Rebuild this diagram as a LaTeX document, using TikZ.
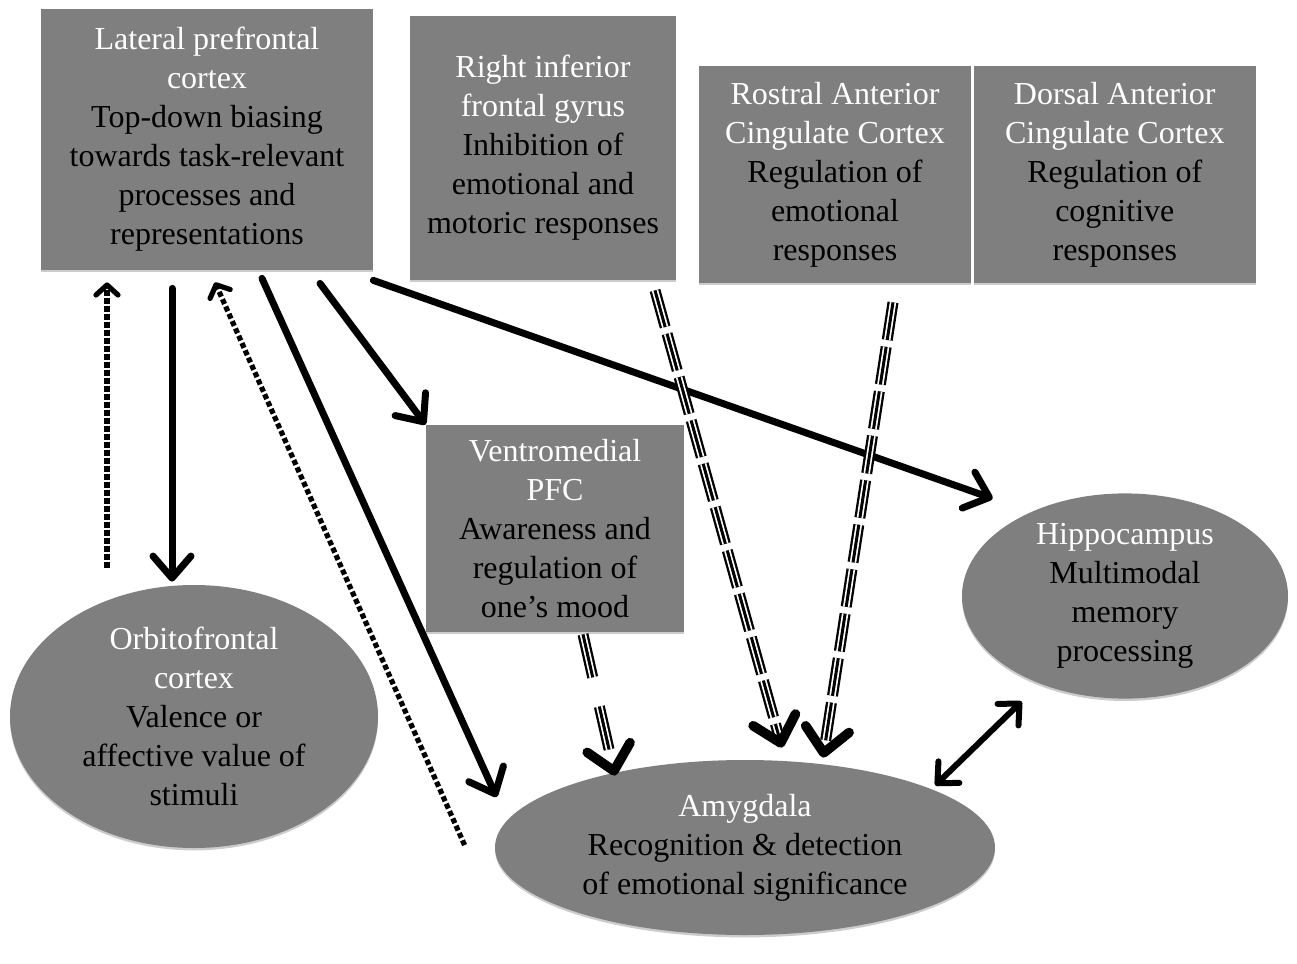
\documentclass[tikz,border=0pt]{standalone}
\usepackage{fontspec}
\setmainfont{Liberation Serif}
\usetikzlibrary{positioning,shapes.geometric,arrows.meta,shadows}

\definecolor{boxgray}{RGB}{127,127,127}

\tikzset{
  region/.style={fill=boxgray, align=center, inner sep=0pt,
    font=\fontsize{16}{19.5}\selectfont,
    drop shadow={shadow xshift=0pt, shadow yshift=-1.2pt, fill=black!20, opacity=1}},
  box/.style={region, rectangle},
  blob/.style={region, ellipse},
  drive/.style={line width=3.5pt, line cap=round,
    -{Straight Barb[round, length=11pt, width=19pt]}},
  feedback/.style={line width=2.6pt, dash pattern=on 2.6pt off 1.4pt,
    -{Straight Barb[round, length=5pt, width=11pt]}},
  mutual/.style={line width=3pt,
    {Straight Barb[round, length=8pt, width=15pt]}-{Straight Barb[round, length=8pt, width=15pt]}},
  stripe/.style={dash pattern=on 19pt off 3.5pt, shorten >=4pt},
  stripetip/.style={stripe, line width=1.5pt, shorten >=0pt,
    -{Straight Barb[round, line width=4.8pt, length=12pt, width=22pt]}}
}

\begin{document}
\begin{tikzpicture}[x=0.5pt,y=-0.5pt]
  \useasboundingbox (0,0) rectangle (1297,964);

  % regions
  \node[box, minimum width=166pt, minimum height=130.5pt] (lpfc) at (207,139.5)
    {\textcolor{white}{Lateral prefrontal}\\ \textcolor{white}{cortex}\\ Top-down biasing\\ towards task-relevant\\ processes and\\ representations};
  \node[box, minimum width=133pt, minimum height=132pt] (rifg) at (543,148)
    {\textcolor{white}{Right inferior}\\ \textcolor{white}{frontal gyrus}\\ Inhibition of\\ emotional and\\ motoric responses};
  \node[box, minimum width=136pt, minimum height=108.5pt] (racc) at (835,174.5)
    {\textcolor{white}{Rostral Anterior}\\ \textcolor{white}{Cingulate Cortex}\\ Regulation of\\ emotional\\ responses};
  \node[box, minimum width=141pt, minimum height=108.5pt, right=1pt of racc] (dacc)
    {\textcolor{white}{Dorsal Anterior}\\ \textcolor{white}{Cingulate Cortex}\\ Regulation of\\ cognitive\\ responses};
  \node[box, minimum width=129pt, minimum height=103.5pt] (vmpfc) at (555,528.5)
    {\textcolor{white}{Ventromedial}\\ \textcolor{white}{PFC}\\ Awareness and\\ regulation of\\ one’s mood};
  \node[blob, minimum width=184pt, minimum height=131.5pt] (ofc) at (194,716.5)
    {\textcolor{white}{Orbitofrontal}\\ \textcolor{white}{cortex}\\ Valence or\\ affective value of\\ stimuli};
  \node[blob, minimum width=163pt, minimum height=101pt] (hippo) at (1125,596)
    {\textcolor{white}{Hippocampus}\\ Multimodal\\ memory\\ processing};
  \node[blob, minimum width=250pt, minimum height=87.5pt] (amyg) at (745,847.5)
    {\textcolor{white}{Amygdala}\\ Recognition \& detection\\ of emotional significance};

  % top-down links
  \draw[drive] ([xshift=-17.5pt,yshift=-9pt]lpfc.south) -- ([xshift=-11pt,yshift=1.5pt]ofc.north);
  \draw[drive] ([xshift=27.5pt,yshift=-4pt]lpfc.south) -- ([xshift=1pt,yshift=25.2pt]amyg.west);
  \draw[drive] ([xshift=56.5pt,yshift=-6.5pt]lpfc.south) -- (vmpfc.north west);
  \draw[drive] ([yshift=-5pt]lpfc.south east) -- ([xshift=-8.4pt,yshift=12.3pt]hippo.north west);

  % feedback
  \draw[feedback] ([xshift=-43.5pt,yshift=8.5pt]ofc.north) -- ([xshift=-50pt,yshift=-6pt]lpfc.south);
  \draw[feedback] ([xshift=-15pt,yshift=1.2pt]amyg.west) -- ([xshift=4pt,yshift=-6pt]lpfc.south);

  % regulation of the amygdala
  \foreach \w/\c in {5.5pt/black,3.2pt/white}
    \draw[stripe, line width=\w, \c] ([xshift=56pt,yshift=-5pt]rifg.south) -- ([xshift=18.5pt,yshift=6pt]amyg.north);
  \draw[stripetip] ([xshift=56pt,yshift=-5pt]rifg.south) -- ([xshift=18.5pt,yshift=6pt]amyg.north);
  \foreach \w/\c in {5.5pt/black,3.2pt/white}
    \draw[stripe, line width=\w, \c] ([xshift=29pt,yshift=-9.5pt]racc.south) -- ([xshift=39pt,yshift=1pt]amyg.north);
  \draw[stripetip] ([xshift=29pt,yshift=-9.5pt]racc.south) -- ([xshift=39pt,yshift=1pt]amyg.north);
  \foreach \w/\c in {5.5pt/black,3.2pt/white}
    \draw[stripe, line width=\w, \c, dash pattern=on 22pt off 15pt] ([xshift=14pt,yshift=-1pt]vmpfc.south) -- ([xshift=-65pt,yshift=-8pt]amyg.north);
  \draw[stripetip, dash pattern=on 22pt off 15pt] ([xshift=14pt,yshift=-1pt]vmpfc.south) -- ([xshift=-65pt,yshift=-8pt]amyg.north);

  \draw[mutual] ([xshift=6.6pt]amyg.north east) -- ([xshift=6.1pt,yshift=-16.3pt]hippo.south west);
\end{tikzpicture}
\end{document}
